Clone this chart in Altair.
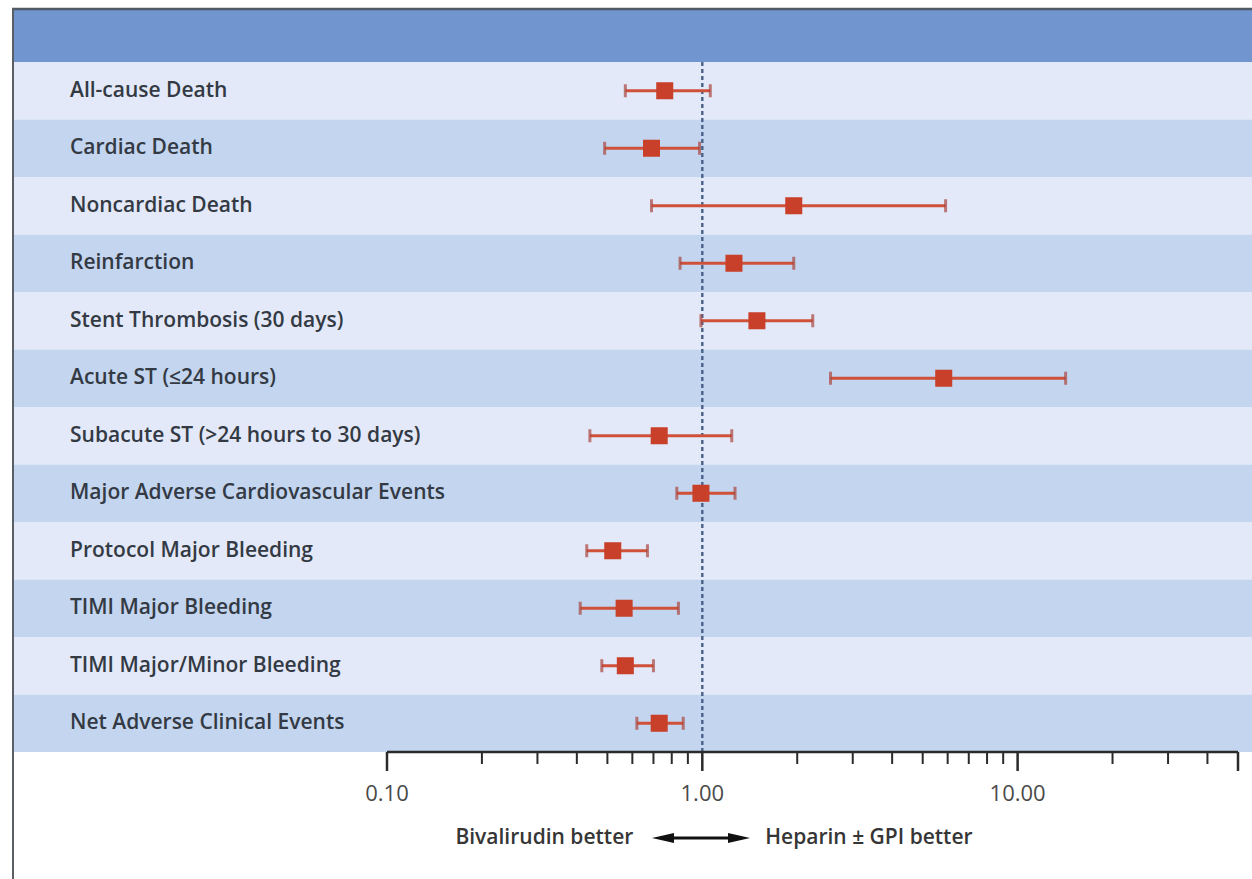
import altair as alt
import pandas as pd
import math

# ---------------- data ----------------
labels = [
    "All-cause Death",
    "Cardiac Death",
    "Noncardiac Death",
    "Reinfarction",
    "Stent Thrombosis (30 days)",
    "Acute ST (≤24 hours)",
    "Subacute ST (>24 hours to 30 days)",
    "Major Adverse Cardiovascular Events",
    "Protocol Major Bleeding",
    "TIMI Major Bleeding",
    "TIMI Major/Minor Bleeding",
    "Net Adverse Clinical Events",
]
estimate = [0.76, 0.69, 1.95, 1.26, 1.49, 5.83, 0.73, 0.99, 0.52, 0.565, 0.57, 0.73]
ci_low = [0.57, 0.49, 0.69, 0.85, 0.99, 2.55, 0.44, 0.83, 0.43, 0.41, 0.48, 0.62]
ci_high = [1.06, 0.98, 5.91, 1.95, 2.24, 14.2, 1.24, 1.27, 0.67, 0.84, 0.70, 0.87]

major_ticks = [0.1, 1.0, 10.0, 50.0]
minor_ticks = [0.2, 0.3, 0.4, 0.5, 0.6, 0.7, 0.8, 0.9,
               2, 3, 4, 5, 6, 7, 8, 9, 20, 30, 40]
tick_label_values = [0.1, 1.0, 10.0]
tick_label_texts = ["0.10", "1.00", "10.00"]
axis_range = [0.1, 50.0]
reference_value = 1.0
left_note = "Bivalirudin better"
right_note = "Heparin ± GPI better"

# ---------------- layout ----------------
W, H = 1238, 690          # plot area (rows region)
PAD_L, PAD_T, PAD_B = 14, 62, 127
AXIS_L_PX, AXIS_R_PX = 373, 1224   # pixel positions of 0.1 and 50 inside plot
decade = (AXIS_R_PX - AXIS_L_PX) / math.log10(axis_range[1] / axis_range[0])
x_min = axis_range[0] * 10 ** (-AXIS_L_PX / decade)
x_max = axis_range[1] * 10 ** ((W - AXIS_R_PX) / decade)

FONT = "Open Sans"

df = pd.DataFrame({
    "label": labels,
    "est": estimate,
    "lo": ci_low,
    "hi": ci_high,
    "shade": ["a" if i % 2 == 0 else "b" for i in range(len(labels))],
})

xscale = alt.Scale(type="log", domain=[x_min, x_max], nice=False, zero=False)
yscale = alt.Scale(domain=labels, paddingInner=0, paddingOuter=0)
Y = alt.Y("label:N", scale=yscale, axis=None)

base = alt.Chart(df)
one = alt.Chart(pd.DataFrame({"ref": [reference_value]}))

bands = base.mark_rect().encode(
    y=Y,
    x=alt.value(0), x2=alt.value(W),
    color=alt.Color("shade:N", scale=alt.Scale(domain=["a", "b"],
                    range=["#e3e9f8", "#c3d5ef"]), legend=None),
)

header = one.mark_rect(color="#7095cf").encode(
    x=alt.value(0), x2=alt.value(W), y=alt.value(-52), y2=alt.value(0)
)

top_border = one.mark_rule(color="#505a66", strokeWidth=2.5).encode(
    x=alt.value(-2), x2=alt.value(W), y=alt.value(-53)
)
left_border = one.mark_rule(color="#5a5f66", strokeWidth=2).encode(
    x=alt.value(-1), y=alt.value(-54), y2=alt.value(H + PAD_B)
)

ref_line = one.mark_rule(color="#4a6288", strokeWidth=2.4, strokeDash=[4, 3]).encode(
    x=alt.X("ref:Q", scale=xscale, axis=None),
    y=alt.value(0), y2=alt.value(H),
)

err = base.mark_rule(color="#cf5139", strokeWidth=3).encode(
    x=alt.X("lo:Q", scale=xscale, axis=None), x2="hi:Q", y=Y
)
cap_lo = base.mark_tick(color="#a9463f", thickness=3, size=13).encode(
    x=alt.X("lo:Q", scale=xscale, axis=None), y=Y
)
cap_hi = base.mark_tick(color="#a9463f", thickness=3, size=13).encode(
    x=alt.X("hi:Q", scale=xscale, axis=None), y=Y
)
points = base.mark_square(color="#c9402a", size=290, opacity=1).encode(
    x=alt.X("est:Q", scale=xscale, axis=None), y=Y
)

row_text = base.mark_text(align="left", baseline="middle", font=FONT,
                          fontSize=21, fontWeight=600, color="#333a44").encode(
    x=alt.value(56), y=Y, text="label:N"
)

# ---------------- custom axis ----------------
axis_df = pd.DataFrame({"a": [axis_range[0]], "b": [axis_range[1]]})
axis_line = alt.Chart(axis_df).mark_rule(color="#2b2b2b", strokeWidth=2.5).encode(
    x=alt.X("a:Q", scale=xscale, axis=None), x2="b:Q", y=alt.value(H)
)
maj = alt.Chart(pd.DataFrame({"t": major_ticks})).mark_rule(
    color="#2b2b2b", strokeWidth=2.5).encode(
    x=alt.X("t:Q", scale=xscale, axis=None), y=alt.value(H), y2=alt.value(H + 19)
)
mnr = alt.Chart(pd.DataFrame({"t": minor_ticks})).mark_rule(
    color="#2b2b2b", strokeWidth=2).encode(
    x=alt.X("t:Q", scale=xscale, axis=None), y=alt.value(H), y2=alt.value(H + 12)
)
tick_text = alt.Chart(pd.DataFrame({"t": tick_label_values, "s": tick_label_texts})).mark_text(
    align="center", baseline="middle", font=FONT, fontSize=22, color="#4a4a4a").encode(
    x=alt.X("t:Q", scale=xscale, axis=None), y=alt.value(H + 42), text="s:N"
)

note_l = one.mark_text(align="right", baseline="middle", font=FONT, fontSize=21,
                       fontWeight=600, color="#363636", dx=-69).encode(
    x=alt.X("ref:Q", scale=xscale, axis=None), y=alt.value(H + 86),
    text=alt.value(left_note)
)
note_r = one.mark_text(align="left", baseline="middle", font=FONT, fontSize=21,
                       fontWeight=600, color="#363636", dx=63).encode(
    x=alt.X("ref:Q", scale=xscale, axis=None), y=alt.value(H + 86),
    text=alt.value(right_note)
)
arrow_shaft = one.mark_rule(color="#111111", strokeWidth=3).encode(
    x=alt.value(646), x2=alt.value(728), y=alt.value(H + 86)
)
arrow_l = one.mark_point(shape="M-1,0L1,-0.45L1,0.45Z", filled=True, size=484,
                         color="#111111", opacity=1).encode(
    x=alt.value(649), y=alt.value(H + 86)
)
arrow_r = one.mark_point(shape="M1,0L-1,-0.45L-1,0.45Z", filled=True, size=484,
                         color="#111111", opacity=1).encode(
    x=alt.value(725), y=alt.value(H + 86)
)

chart = alt.layer(
    bands, header, top_border, left_border, ref_line,
    err, cap_lo, cap_hi, points, row_text,
    axis_line, maj, mnr, tick_text,
    note_l, note_r, arrow_shaft, arrow_l, arrow_r,
).properties(
    width=W, height=H,
    autosize=alt.AutoSizeParams(type="none"),
    padding={"left": PAD_L, "top": PAD_T, "right": 0, "bottom": PAD_B},
    background="white",
).configure_view(stroke=None)

chart.save("out.html", embed_options={"renderer": "svg", "actions": False})
